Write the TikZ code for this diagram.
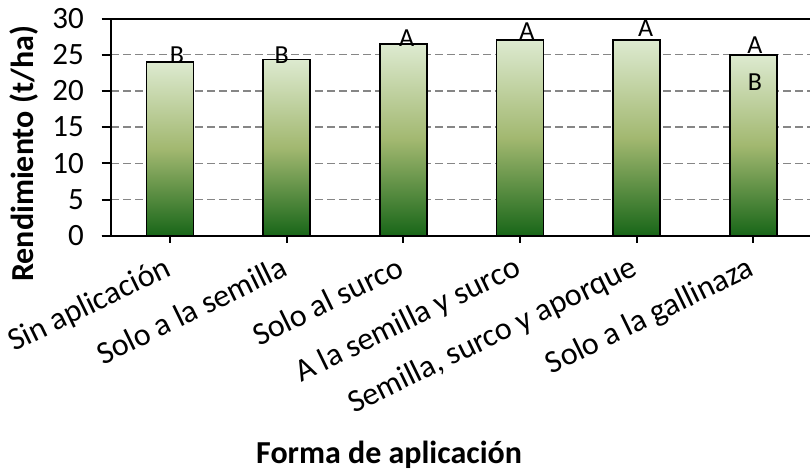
\documentclass[tikz,border=0pt]{standalone}
\usepackage{fontspec}
\setmainfont{Carlito}
\definecolor{gtop}{RGB}{221,234,208}
\definecolor{gmid}{RGB}{162,184,112}
\definecolor{gbot}{RGB}{24,102,24}
\definecolor{gridgray}{RGB}{134,134,134}
\begin{document}
\begin{tikzpicture}[x=1pt,y=-1pt,
  gridline/.style={draw=gridgray, line width=1.5pt, dash pattern=on 8pt off 4pt},
  axisline/.style={draw=black, line width=2pt},
  barbox/.style={draw=black, line width=1.8pt, top color=gtop, bottom color=gbot, middle color=gmid},
  ticklab/.style={font=\fontsize{31}{36}\selectfont, anchor=east, inner sep=0pt},
  catlab/.style={font=\fontsize{32}{38}\selectfont, anchor=base east, rotate=26, inner sep=0pt},
  letterlab/.style={font=\fontsize{26}{30}\selectfont, anchor=base, inner sep=0pt},
  axtitle/.style={font=\bfseries\fontsize{32}{38}\selectfont, inner sep=0pt}]
\useasboundingbox (0,0) rectangle (810,474);
\clip (0,0) rectangle (810,474);
% gridlines
\foreach \v in {5,10,15,20,25}
  \draw[gridline] (111,{235.7-7.24*\v}) -- (812,{235.7-7.24*\v});
% bars
\foreach \c/\val in {170/24.0, 286.7/24.35, 403.3/26.5, 520/27.0, 636.7/27.0, 753.3/25.0}
  \path[barbox] ({\c-23.5},{235.7-7.24*\val}) rectangle ({\c+23.5},235.7);
% axes
\draw[axisline] (111,18.5) -- (812,18.5);
\draw[axisline] (111,18.5) -- (111,235.7);
\draw[axisline] (101.7,235.7) -- (812,235.7);
\foreach \v in {0,5,...,30} {
  \draw[axisline] (101.7,{235.7-7.24*\v}) -- (111,{235.7-7.24*\v});
  \node[ticklab] (t\v) at (84,{235.7-7.24*\v}) {\v};
}
\foreach \c in {170,286.7,403.3,520,636.7,753.3}
  \draw[axisline] (\c,235.7) -- (\c,243);
% category labels
\node[catlab] (c1) at (172.7,274.5) {Sin aplicación};
\node[catlab] (c2) at (289.4,274.5) {Solo a la semilla};
\node[catlab] (c3) at (406.0,274.5) {Solo al surco};
\node[catlab] (c4) at (522.7,274.5) {A la semilla y surco};
\node[catlab] (c5) at (639.4,274.5) {Semilla, surco y aporque};
\node[catlab] (c6) at (756.0,274.5) {Solo a la gallinaza};
% letters
\node[letterlab] (l1) at (177,63.3) {B};
\node[letterlab] (l2) at (281.7,63.3) {B};
\node[letterlab] (l3) at (406.7,46) {A};
\node[letterlab] (l4) at (527,39.3) {A};
\node[letterlab] (l5) at (645.7,36) {A};
\node[letterlab] (l6) at (755,53.3) {A};
\node[letterlab] (l6b) at (755,90.7) {B};
% axis titles
\node[axtitle, rotate=90, anchor=base west] (ytitle) at (33.5,282) {Rendimiento (t/ha)};
\node[axtitle, anchor=base west] (xtitle) at (256,463.3) {Forma de aplicación};
\end{tikzpicture}
\end{document}
